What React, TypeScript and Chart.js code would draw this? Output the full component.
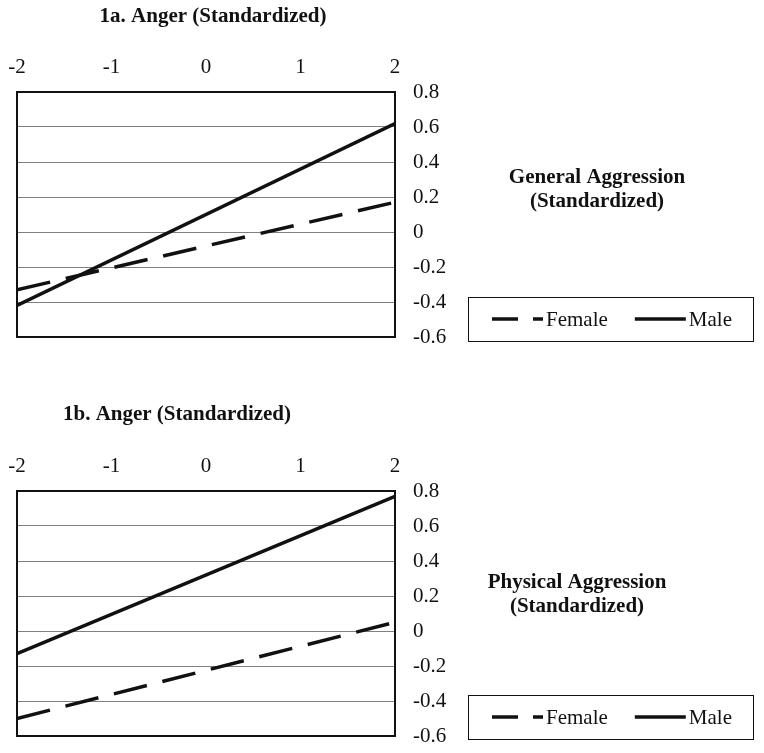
import React, { useEffect, useRef } from "react";
import { Chart, registerables } from "chart.js";

Chart.register(...registerables);

// ---- data ----
const angerTicks = [-2, -1, 0, 1, 2];
const aggressionTicks = [0.8, 0.6, 0.4, 0.2, 0, -0.2, -0.4, -0.6];
const angerEnds = [-2, 2];
const seriesNames = ["Female", "Male"];
const generalFemale = [-0.33, 0.17];
const generalMale = [-0.42, 0.62];
const physicalFemale = [-0.5, 0.05];
const physicalMale = [-0.13, 0.77];

const SERIF = '"Liberation Serif", "Times New Roman", serif';
const INK = "#111";

const decorPlugin = {
  id: "decor",
  beforeDatasetsDraw(chart: any, _args: any, opts: any) {
    const { ctx, chartArea } = chart;
    const { left, top, right, bottom } = chartArea;
    ctx.save();
    ctx.strokeStyle = INK;
    ctx.lineWidth = 2;
    ctx.strokeRect(left, top, right - left, bottom - top);
    ctx.restore();
  },
  afterDraw(chart: any, _args: any, opts: any) {
    const { ctx } = chart;
    ctx.save();
    ctx.fillStyle = INK;
    ctx.textBaseline = "middle";
    ctx.textAlign = "center";
    ctx.font = `bold 21px ${SERIF}`;
    ctx.fillText(opts.title, opts.titleX, opts.titleY);
    (opts.yTitle as string[]).forEach((line: string, i: number) => {
      ctx.fillText(line, opts.yTitleX, opts.yTitleY + i * opts.yTitleGap);
    });
    // legend box
    const bx = opts.legendBox[0], by = opts.legendBox[1], bw = opts.legendBox[2], bh = opts.legendBox[3];
    ctx.strokeStyle = INK;
    ctx.lineWidth = 1;
    ctx.strokeRect(bx + 0.5, by + 0.5, bw, bh);
    const cy = by + bh / 2;
    let x = bx + 24;
    ctx.font = `21px ${SERIF}`;
    ctx.textAlign = "left";
    chart.data.datasets.forEach((ds: any) => {
      ctx.save();
      ctx.strokeStyle = ds.borderColor;
      ctx.lineWidth = 3.5;
      ctx.setLineDash(ds.borderDash && ds.borderDash.length ? [26, 15] : []);
      ctx.beginPath();
      ctx.moveTo(x, cy);
      ctx.lineTo(x + 51, cy);
      ctx.stroke();
      ctx.restore();
      ctx.fillText(ds.label, x + 54, cy + 1);
      x += 54 + ctx.measureText(ds.label).width + 27;
    });
    ctx.restore();
  },
};

type PanelProps = {
  top: number;
  height: number;
  padTop: number;
  title: string;
  titleX: number;
  yTitle: string[];
  yTitleX: number;
  yTitleY: number;
  female: number[];
  male: number[];
};

const zeroPad = (s: any) => {
  s.paddingLeft = 0;
  s.paddingRight = 0;
  s.paddingTop = 0;
  s.paddingBottom = 0;
};

function Panel(p: PanelProps) {
  const ref = useRef<HTMLCanvasElement | null>(null);
  useEffect(() => {
    if (!ref.current) return;
    const plotBottom = p.padTop + 40 + 245;
    const chart = new Chart(ref.current, {
      type: "line",
      data: {
        datasets: [
          {
            label: seriesNames[0],
            data: angerEnds.map((x, i) => ({ x, y: p.female[i] })),
            borderColor: INK,
            borderWidth: 3.5,
            borderDash: [34, 16],
            pointRadius: 0,
            fill: false,
          },
          {
            label: seriesNames[1],
            data: angerEnds.map((x, i) => ({ x, y: p.male[i] })),
            borderColor: INK,
            borderWidth: 3.5,
            pointRadius: 0,
            fill: false,
          },
        ],
      },
      options: {
        responsive: false,
        animation: false,
        events: [],
        layout: {
          autoPadding: false,
          padding: { left: 17, right: 764 - 395 - 60, top: p.padTop, bottom: p.height - plotBottom },
        },
        scales: {
          x: {
            type: "linear",
            position: "top",
            min: Math.min(...angerTicks),
            max: Math.max(...angerTicks),
            afterFit: (s: any) => { s.height = 40; zeroPad(s); },
            grid: { display: false, drawTicks: false },
            border: { display: false },
            ticks: {
              stepSize: 1,
              padding: 12,
              color: INK,
              font: { family: SERIF, size: 21 },
              callback: (v: any) => String(v),
            },
          },
          y: {
            type: "linear",
            position: "right",
            min: Math.min(...aggressionTicks),
            max: Math.max(...aggressionTicks),
            afterFit: (s: any) => { s.width = 60; zeroPad(s); },
            grid: { color: "#808080", lineWidth: 1, drawTicks: false },
            border: { display: false },
            ticks: {
              stepSize: 0.2,
              padding: 18,
              color: INK,
              font: { family: SERIF, size: 21 },
              callback: (v: any) => String(Math.round(Number(v) * 10) / 10),
            },
          },
        },
        plugins: {
          legend: { display: false },
          tooltip: { enabled: false },
          decor: {
            title: p.title,
            titleX: p.titleX,
            titleY: 17,
            yTitle: p.yTitle,
            yTitleX: p.yTitleX,
            yTitleY: p.yTitleY,
            yTitleGap: 24,
            legendBox: [468, 297, 285, 44],
          },
        } as any,
      },
      plugins: [decorPlugin],
    });
    return () => chart.destroy();
  }, []);
  return (
    <canvas
      ref={ref}
      width={764}
      height={p.height}
      style={{ position: "absolute", left: 0, top: p.top, width: 764, height: p.height, display: "block" }}
    />
  );
}

export default function App() {
  return (
    <div style={{ position: "absolute", left: 0, top: 0, width: 764, height: 753, background: "#fff", overflow: "hidden" }}>
      <Panel
        top={0}
        height={398}
        padTop={52}
        title="1a. Anger (Standardized)"
        titleX={213}
        yTitle={["General Aggression", "(Standardized)"]}
        yTitleX={597}
        yTitleY={178}
        female={generalFemale}
        male={generalMale}
      />
      <Panel
        top={398}
        height={355}
        padTop={53}
        title="1b. Anger (Standardized)"
        titleX={177}
        yTitle={["Physical Aggression", "(Standardized)"]}
        yTitleX={577}
        yTitleY={185}
        female={physicalFemale}
        male={physicalMale}
      />
    </div>
  );
}
